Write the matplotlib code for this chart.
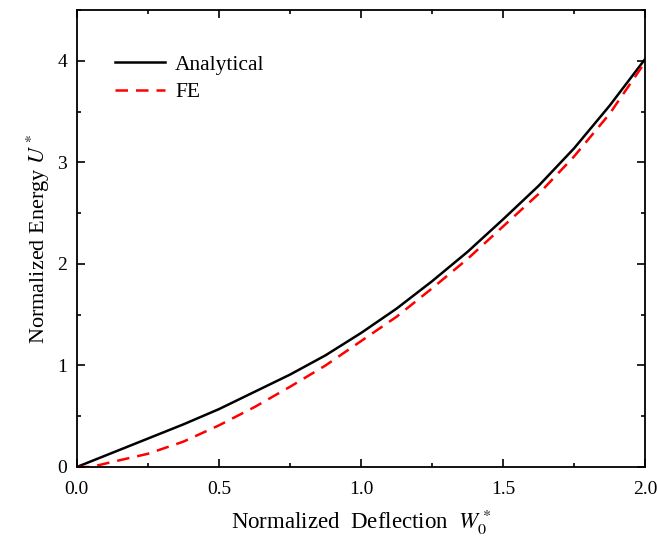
import numpy as np
import matplotlib.pyplot as plt
from matplotlib.ticker import MultipleLocator, FormatStrFormatter

plt.rcParams['font.family'] = ['Liberation Serif', 'DejaVu Serif']
plt.rcParams['mathtext.fontset'] = 'stix'

# normalized deflection / energy curves
w_analytical = [0.0, 0.125, 0.25, 0.375, 0.5, 0.625, 0.75, 0.875, 1.0,
                1.125, 1.25, 1.375, 1.5, 1.625, 1.75, 1.875, 2.0]
u_analytical = [0.0, 0.14, 0.28, 0.42, 0.57, 0.74, 0.91, 1.10, 1.32,
                1.56, 1.83, 2.12, 2.44, 2.77, 3.14, 3.56, 4.02]

w_fe = [0.0, 0.05, 0.125, 0.25, 0.375, 0.5, 0.625, 0.75, 0.875, 1.0,
        1.125, 1.25, 1.375, 1.5, 1.625, 1.75, 1.875, 2.0]
u_fe = [0.0, 0.0, 0.05, 0.13, 0.25, 0.41, 0.59, 0.79, 1.00, 1.24,
        1.48, 1.76, 2.05, 2.37, 2.69, 3.06, 3.48, 3.99]

fig = plt.figure(figsize=(6.57, 5.38), dpi=100)
ax = fig.add_axes([0.117, 0.132, 0.865, 0.849])

ax.plot(w_analytical, u_analytical, color='black', lw=1.8, label='Analytical')
ax.plot(w_fe, u_fe, color='red', lw=1.8, ls=(0, (5, 3.2)), label='FE')

ax.set_xlim(0, 2.0)
ax.set_ylim(0, 4.5)
ax.xaxis.set_major_locator(MultipleLocator(0.5))
ax.xaxis.set_minor_locator(MultipleLocator(0.25))
ax.yaxis.set_major_locator(MultipleLocator(1))
ax.yaxis.set_minor_locator(MultipleLocator(0.5))
ax.xaxis.set_major_formatter(FormatStrFormatter('%.1f'))
ax.tick_params(which='both', direction='in', top=True, right=True,
               labelsize=14, width=1.2)
ax.tick_params(which='major', length=6, pad=7)
ax.tick_params(axis='x', which='major', pad=10)
ax.tick_params(which='minor', length=3)
for s in ax.spines.values():
    s.set_linewidth(1.3)

ax.set_xlabel(r'Normalized  Deflection  $W_0^*$', fontsize=16.5, labelpad=7)
ax.set_ylabel(r'Normalized Energy $U^*$', fontsize=16, labelpad=4)

ax.legend(loc='upper left', frameon=False, fontsize=15.5, handlelength=2.3,
          handletextpad=0.5, labelspacing=0.35, bbox_to_anchor=(0.033, 0.945))

fig.savefig('out.png', dpi=100)
